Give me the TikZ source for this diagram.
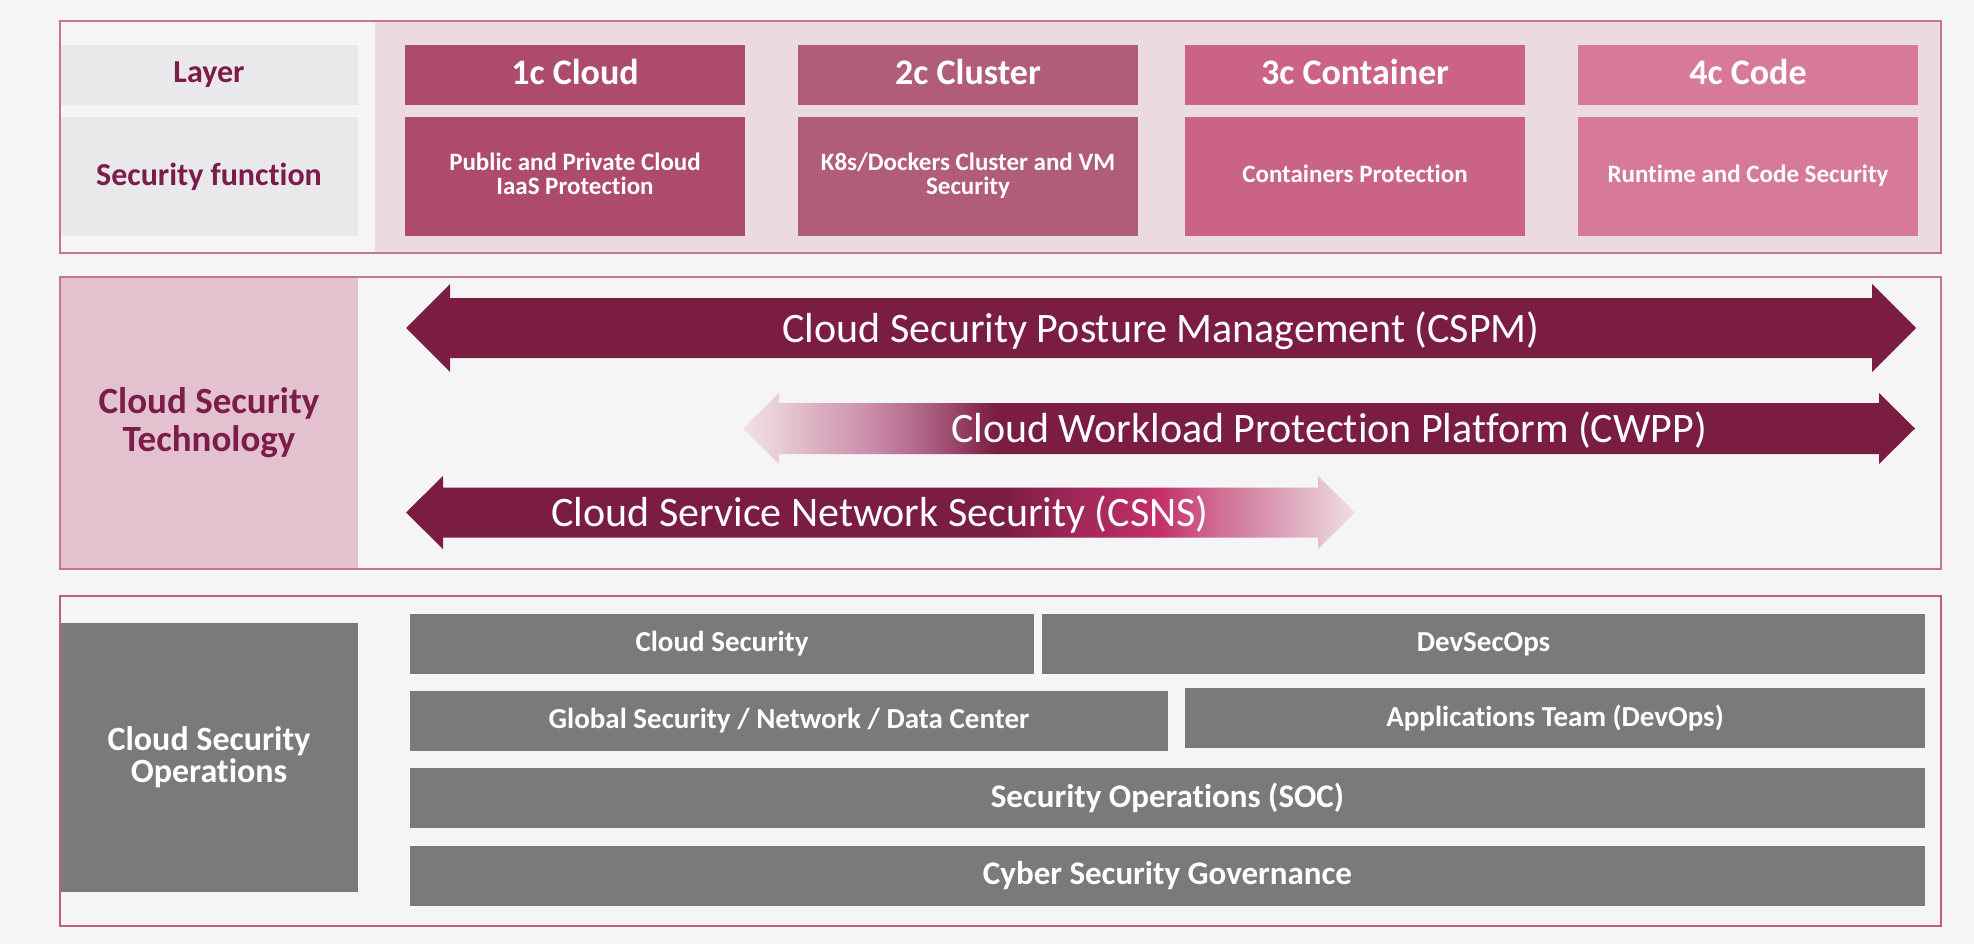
\documentclass[tikz,border=0pt]{standalone}
\usepackage{fontspec}
\setmainfont{Carlito}[Ligatures=NoCommon]
\usepackage{xcolor}
\usepackage{tikz}
\usetikzlibrary{positioning}
\definecolor{pagebg}{HTML}{F5F5F5}
\definecolor{layerpink}{HTML}{ECDAE2}
\definecolor{labelgray}{HTML}{E9E8EA}
\definecolor{labeltext}{HTML}{7B1C4B}
\definecolor{cloudc}{HTML}{AE4A6C}
\definecolor{clusterc}{HTML}{B05C7A}
\definecolor{containerc}{HTML}{CB6386}
\definecolor{codec}{HTML}{D77A9A}
\definecolor{techpink}{HTML}{E3C1CE}
\definecolor{arrowdark}{HTML}{7B1C42}
\definecolor{opsgray}{HTML}{7A7A7A}
\definecolor{topedge}{HTML}{C47594}
\definecolor{botedge}{HTML}{C05C7E}
\definecolor{cwA}{HTML}{F1E1E8}
\definecolor{cwB}{HTML}{E7CCD7}
\definecolor{cwC}{HTML}{D8AABD}
\definecolor{cwD}{HTML}{CC8DAB}
\definecolor{cwE}{HTML}{A95E80}
\definecolor{csA}{HTML}{A02858}
\definecolor{csB}{HTML}{C33068}
\definecolor{csC}{HTML}{D06890}
\definecolor{csD}{HTML}{DCA0B8}
\definecolor{csE}{HTML}{F0DDE4}
\pgfdeclarehorizontalshading{cwppfade}{100bp}{color(0bp)=(cwA); color(25bp)=(cwA); color(26.5bp)=(cwB); color(28.5bp)=(cwC); color(30.4bp)=(cwD); color(33bp)=(cwE); color(35.8bp)=(arrowdark); color(100bp)=(arrowdark)}
\pgfdeclarehorizontalshading{csnsfade}{100bp}{color(0bp)=(arrowdark); color(56.4bp)=(arrowdark); color(60.5bp)=(csA); color(64.7bp)=(csB); color(67.5bp)=(csC); color(71bp)=(csD); color(75bp)=(csE); color(100bp)=(csE)}
% left tip x, right tip x, middle y, half shaft, half head, head length
\newcommand{\cloudarrow}[6]{(#1,#3) -- ({#1+#6},{#3-#5}) -- ({#1+#6},{#3-#4}) -- ({#2-#6},{#3-#4}) -- ({#2-#6},{#3-#5}) -- (#2,#3) -- ({#2-#6},{#3+#5}) -- ({#2-#6},{#3+#4}) -- ({#1+#6},{#3+#4}) -- ({#1+#6},{#3+#5}) -- cycle}
\newcommand{\fnspacer}{\rule[-6pt]{0pt}{6pt}}

\begin{document}
\begin{tikzpicture}[
    x=1pt, y=-1pt,
    nosep/.style={inner sep=0, outer sep=0},
    edge/.style={draw=#1, line width=2.5pt},
    cell/.style={nosep, align=center, text=white, minimum width=340pt, font=\bfseries\fontsize{25}{24}\selectfont},
    head/.style={cell, minimum height=60pt, text height=24pt, text depth=4pt, font=\bfseries\fontsize{36}{40}\selectfont},
    func/.style={cell, minimum height=119pt},
    rowlabel/.style={nosep, fill=labelgray, text=labeltext, minimum width=298pt, font=\bfseries\fontsize{32}{34}\selectfont},
    band/.style={nosep, fill=opsgray, text=white, minimum height=60pt, font=\bfseries\fontsize{29}{30}\selectfont},
    banner/.style={nosep, text=white, anchor=base, font=\fontsize{42}{44}\selectfont}]

\path[fill=pagebg] (0,0) rectangle (1974,944);

% layers and functions
\path[fill=layerpink] (375,21) rectangle (1941,253);
\node[rowlabel, minimum height=60pt] (layer) at (209,75) {Layer};
\node[rowlabel, minimum height=119pt, below=12pt of layer] (secfn) {Security function};
\node[head, fill=cloudc] (cloud) at (575,75) {1c Cloud};
\node[func, fill=cloudc, below=12pt of cloud] (cloudfn) {Public and Private Cloud\\IaaS Protection\fnspacer};
\node[head, fill=clusterc] (cluster) at (968,75) {2c Cluster};
\node[func, fill=clusterc, below=12pt of cluster] (clusterfn) {K8s/Dockers Cluster and VM\\Security\fnspacer};
\node[head, fill=containerc] (container) at (1355,75) {3c Container};
\node[func, fill=containerc, below=12pt of container] (containerfn) {Containers Protection\fnspacer};
\node[head, fill=codec] (code) at (1748,75) {4c Code};
\node[func, fill=codec, below=12pt of code] (codefn) {Runtime and Code Security\fnspacer};
\path[edge=topedge] (60,21) rectangle (1941,253);

% technology
\node[nosep, fill=techpink, text=labeltext, align=center, minimum width=298pt, minimum height=292pt, font=\bfseries\fontsize{37}{38}\selectfont] (tech) at (209,423) {Cloud Security\\Technology};
\path[fill=arrowdark] \cloudarrow{406}{1916}{328}{30}{44}{44};
\path[shading=cwppfade] \cloudarrow{743}{1915}{428.5}{25.5}{35.5}{36};
\path[shading=csnsfade] \cloudarrow{406}{1355}{512.5}{25}{36.5}{37};
\node[banner] (cspm) at (1161,342.5) {Cloud Security Posture Management (CSPM)};
\node[banner] (cwpp) at (1329,442.5) {Cloud Workload Protection Platform (CWPP)};
\node[banner] (csns) at (880,526.5) {Cloud Service Network Security (CSNS)};
\path[edge=topedge] (60,277) rectangle (1941,569);

% operations
\node[nosep, fill=opsgray, text=white, align=center, minimum width=298pt, minimum height=269pt, font=\bfseries\fontsize{34}{32}\selectfont] (ops) at (209,757.5) {Cloud Security\\Operations};
\node[band, minimum width=624pt] (cloudsec) at (722,644) {Cloud Security};
\node[band, minimum width=883pt, right=8pt of cloudsec] (devsecops) {DevSecOps};
\node[band, minimum width=758pt] (globalsec) at (789,721) {Global Security / Network / Data Center};
\node[band, minimum width=740pt] (appteam) at (1555,718) {Applications Team (DevOps)};
\node[band, minimum width=1515pt, font=\bfseries\fontsize{33}{34}\selectfont] (soc) at (1167.5,798) {Security Operations (SOC)};
\node[band, minimum width=1515pt, below=18pt of soc, font=\bfseries\fontsize{33}{34}\selectfont] (gov) {Cyber Security Governance};
\path[edge=botedge] (60,596) rectangle (1941,926);

\end{tikzpicture}
\end{document}
